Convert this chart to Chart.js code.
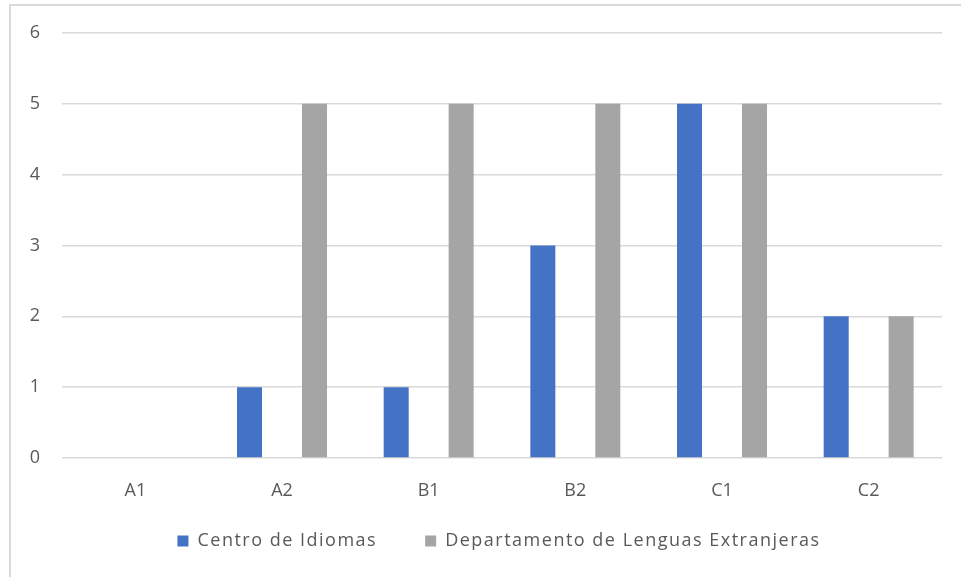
<!DOCTYPE html>
<html><head><meta charset="utf-8">
<script src="https://cdn.jsdelivr.net/npm/chart.js@4/dist/chart.umd.min.js"></script>
<style>
html,body{margin:0;padding:0;background:#fff;overflow:hidden}
#frame{position:absolute;left:9px;top:4px;width:1000px;height:600px;border-left:2px solid #d9d9d9;border-top:2px solid #d9d9d9}
#wrap{position:absolute;left:0;top:0;width:961px;height:577px}
</style></head><body>
<div id="frame"></div>
<div id="wrap"><canvas id="c" width="961" height="577"></canvas></div>
<script>
const categories = ['A1','A2','B1','B2','C1','C2'];
const centroIdiomas = [0,1,1,3,5,2];
const departamentoLenguas = [0,5,5,5,5,2];
const yTicks = [0,1,2,3,4,5,6];
const seriesNames = ['Centro de Idiomas','Departamento de Lenguas Extranjeras'];

const font = {family:'"Open Sans", sans-serif', size:18};
const spacing = {id:'spacing', beforeUpdate(chart){ chart.ctx.letterSpacing='1.5px'; }};
const legendPos = {id:'legendPos', afterLayout(chart){
  const lg = chart.legend;
  if(lg){ lg.top = 484; lg.height = 90; lg.bottom = 484 + 90; lg.left += 28; lg.right += 28; }
  Object.values(chart.scales).forEach(s=>{
    if(s._wrapped) return;
    const orig = s.drawLabels;
    s.drawLabels = function(a){ const c=this.ctx; c.save(); c.letterSpacing='0px'; orig.call(this,a); c.restore(); };
    s._wrapped = true;
  });
}};
new Chart(document.getElementById('c'), {
  type:'bar',
  plugins:[spacing, legendPos],
  data:{
    labels:categories,
    datasets:[
      {label:seriesNames[0], data:centroIdiomas, backgroundColor:'#4472C4', categoryPercentage:0.886, barPercentage:0.385},
      {label:seriesNames[1], data:departamentoLenguas, backgroundColor:'#A5A5A5', categoryPercentage:0.886, barPercentage:0.385}
    ]
  },
  options:{
    responsive:false, animation:false,
    layout:{padding:{left:0,right:19,top:32,bottom:19}},
    plugins:{
      tooltip:{enabled:false},
      legend:{position:'bottom', maxHeight:40, labels:{boxWidth:11, boxHeight:11, color:'#595959', font:font, padding:48}}
    },
    scales:{
      x:{grid:{display:false, drawTicks:false}, border:{display:false},
         ticks:{color:'#595959', font:font, padding:22},
         afterFit(s){s.height=60;}},
      y:{min:0,max:6, afterBuildTicks(s){s.ticks=yTicks.map(v=>({value:v}));},
         grid:{color:'#d9d9d9', lineWidth:1.5, drawTicks:false}, border:{display:false},
         ticks:{color:'#595959', font:font, padding:22},
         afterFit(s){s.width=62;}}
    }
  }
});
</script>
</body></html>
